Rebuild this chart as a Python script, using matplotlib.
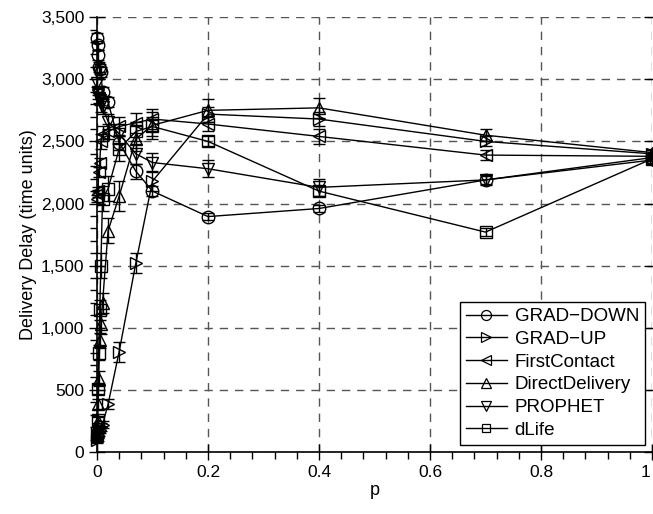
import matplotlib
matplotlib.use("Agg")
import matplotlib.pyplot as plt
from matplotlib.ticker import MultipleLocator, FuncFormatter
from matplotlib.lines import Line2D
from matplotlib.transforms import offset_copy

plt.rcParams['font.family'] = ['Liberation Sans', 'DejaVu Sans']

p = [0, 0.001, 0.002, 0.003, 0.005, 0.007, 0.01, 0.02, 0.04, 0.07, 0.1, 0.2, 0.4, 0.7, 1.0]

grad_down = [3336, 3272, 3192, 3100, 3080, 3060, 2900, 2816, 2490, 2260, 2100, 1895, 1960, 2190, 2370]
grad_up = [100, 120, 140, 160, 180, 200, 220, 384, 808, 1520, 2180, 2720, 2680, 2500, 2400]
first_contact = [2040, 2080, 2100, 2250, 2330, 2500, 2560, 2580, 2620, 2650, 2680, 2640, 2540, 2390, 2380]
direct_delivery = [130, 250, 390, 590, 900, 1030, 1200, 1780, 2060, 2520, 2630, 2750, 2770, 2550, 2410]
prophet = [2970, 2900, 2870, 2850, 2830, 2800, 2780, 2660, 2560, 2400, 2330, 2280, 2130, 2190, 2350]
dlife = [150, 260, 510, 800, 1140, 1500, 2040, 2120, 2440, 2580, 2620, 2500, 2100, 1770, 2360]

err_grad_down = [40, 40, 40, 40, 40, 40, 40, 40, 60, 60, 40, 30, 30, 30, 30]
err_grad_up = [30, 30, 30, 30, 30, 30, 30, 40, 80, 80, 80, 60, 60, 40, 30]
err_first_contact = [30, 30, 30, 40, 40, 60, 60, 60, 80, 80, 80, 60, 60, 40, 30]
err_direct_delivery = [30, 30, 40, 60, 60, 80, 80, 100, 120, 100, 110, 90, 80, 50, 30]
err_prophet = [30, 30, 30, 40, 40, 60, 60, 60, 80, 80, 80, 70, 70, 40, 30]
err_dlife = [30, 30, 40, 60, 80, 100, 100, 100, 100, 80, 80, 40, 40, 30, 30]

x_ticks = [0, 0.2, 0.4, 0.6, 0.8, 1.0]
x_tick_labels = ["0", "0.2", "0.4", "0.6", "0.8", "1"]

series = [
    ("GRAD\u2212DOWN", grad_down, err_grad_down, "o"),
    ("GRAD\u2212UP", grad_up, err_grad_up, ">"),
    ("FirstContact", first_contact, err_first_contact, "<"),
    ("DirectDelivery", direct_delivery, err_direct_delivery, "^"),
    ("PROPHET", prophet, err_prophet, "v"),
    ("dLife", dlife, err_dlife, "s"),
]

fig = plt.figure(figsize=(6.53, 5.14), dpi=100)
ax = fig.add_axes([0.1485, 0.1206, 0.850, 0.846])

handles = []
for name, vals, err, mk in series:
    ms = 9 if mk != "s" else 8
    ax.errorbar(p, vals, yerr=err, color="black", lw=1.0, marker=mk,
                markersize=ms, markerfacecolor="none", markeredgecolor="black",
                markeredgewidth=1.0, ecolor="black", elinewidth=1.0,
                capsize=4.5, capthick=1.0, clip_on=False, zorder=3)
    handles.append(Line2D([], [], color="black", lw=1.0, marker=mk,
                          markersize=ms * 0.8, markerfacecolor="none",
                          markeredgecolor="black", markeredgewidth=0.9, label=name))

ax.set_xlim(0, 1)
ax.set_ylim(0, 3500)
ax.set_xticks(x_ticks, x_tick_labels)
ax.xaxis.set_minor_locator(MultipleLocator(0.04))
ax.yaxis.set_major_locator(MultipleLocator(500))
ax.yaxis.set_minor_locator(MultipleLocator(100))
ax.yaxis.set_major_formatter(FuncFormatter(lambda v, pos: f"{int(round(v)):,}"))

ax.grid(True, which="major", linestyle=(0, (6, 5)), color="#555555", linewidth=1.0)
ax.set_axisbelow(True)
for s in ["top", "right"]:
    ax.spines[s].set_visible(False)
for s in ["left", "bottom"]:
    ax.spines[s].set_linewidth(1.2)

ax.tick_params(which="major", direction="inout", length=12, width=1.0, labelsize=12.5, right=True, pad=3)
ax.tick_params(which="minor", direction="out", length=5, width=1.0, right=False)

ax.set_xlabel("p", fontsize=13, labelpad=2)
ax.set_ylabel("Delivery Delay (time units)", fontsize=13, labelpad=3)

leg = ax.legend(handles=handles, loc="lower right", bbox_to_anchor=(1.0, 0.0), fontsize=13.5,
                frameon=True, fancybox=False, edgecolor="black", framealpha=1.0,
                handlelength=2.2, handletextpad=0.4, borderpad=0.3, labelspacing=0.3,
                borderaxespad=0.4)
leg.get_frame().set_linewidth(1.0)

fig.canvas.draw()
last_tick = ax.xaxis.get_major_ticks()[-1]
last_tick.label1.set_horizontalalignment("right")
last_tick.label1.set_transform(offset_copy(last_tick.label1.get_transform(), fig=fig, x=-2, y=0, units="dots"))

fig.savefig("out.png", dpi=100)
